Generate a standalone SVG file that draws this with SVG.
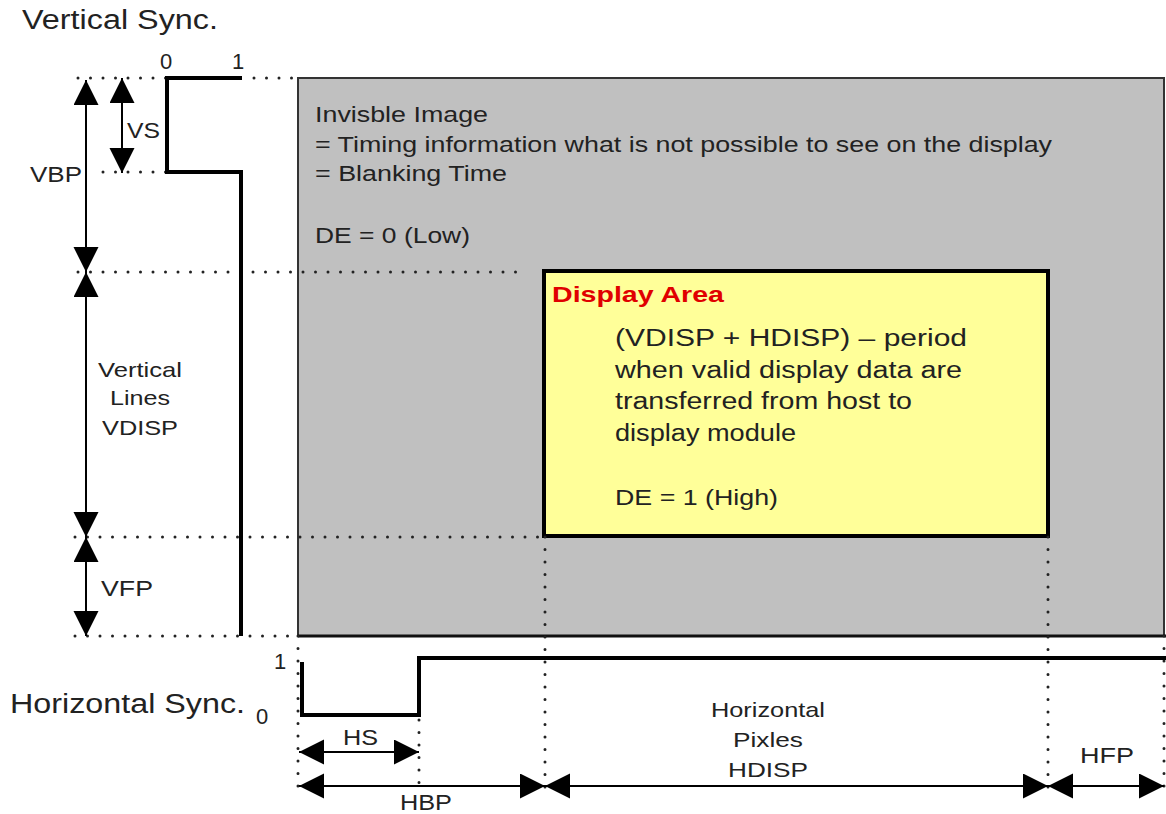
<svg xmlns="http://www.w3.org/2000/svg" width="1166" height="814" viewBox="0 0 1166 814">
<defs>
<marker id="ah" markerUnits="userSpaceOnUse" markerWidth="26" markerHeight="26" refX="25" refY="12.5" orient="auto-start-reverse" viewBox="0 0 26 26">
<path d="M0,0 L25,12.5 L0,25 z" fill="#000"/>
</marker>
<style>
text{font-family:"Liberation Sans",Arial,sans-serif;fill:#222}
.dot{stroke:#222;stroke-width:3;stroke-linecap:round;stroke-dasharray:0 12.5;fill:none}
.sig{stroke:#000;stroke-width:4;fill:none;stroke-linejoin:miter}
.arr{stroke:#000;stroke-width:2;fill:none;marker-start:url(#ah);marker-end:url(#ah)}
.m{font-size:22px}
.l{font-size:21px}
.g{font-size:22px}
.y{font-size:23px}
</style>
</defs>
<rect width="1166" height="814" fill="#fff"/>

<g id="invisible-image">
<rect x="298" y="78" width="866" height="558" fill="#c0c0c0" stroke="#333" stroke-width="2"/>
<line x1="298" y1="636" x2="1166" y2="636" stroke="#111" stroke-width="3"/>
<text x="315" y="122" class="g" textLength="173" lengthAdjust="spacingAndGlyphs">Invisble Image</text>
<text x="315" y="152" class="g" textLength="737" lengthAdjust="spacingAndGlyphs">= Timing information what is not possible to see on the display</text>
<text x="315" y="181" class="g" textLength="192" lengthAdjust="spacingAndGlyphs">= Blanking Time</text>
<text x="315" y="243" class="g" textLength="155" lengthAdjust="spacingAndGlyphs">DE = 0 (Low)</text>
</g>

<g id="display-area">
<rect x="544" y="271" width="504" height="265" fill="#ffff99" stroke="#000" stroke-width="4"/>
<text x="552" y="302" style="font-size:22px;font-weight:bold;fill:#e00000" textLength="172" lengthAdjust="spacingAndGlyphs">Display Area</text>
<text x="615" y="346" class="y" textLength="352" lengthAdjust="spacingAndGlyphs">(VDISP + HDISP) – period</text>
<text x="615" y="378" class="y" textLength="347" lengthAdjust="spacingAndGlyphs">when valid display data are</text>
<text x="615" y="409" class="y" textLength="297" lengthAdjust="spacingAndGlyphs">transferred from host to</text>
<text x="615" y="441" class="y" textLength="181" lengthAdjust="spacingAndGlyphs">display module</text>
<text x="615" y="505" class="g" textLength="163" lengthAdjust="spacingAndGlyphs">DE = 1 (High)</text>
</g>

<g id="guides">
<line class="dot" x1="78" y1="78" x2="166" y2="78"/>
<line class="dot" x1="254" y1="78" x2="298" y2="78"/>
<line class="dot" x1="103" y1="172" x2="166" y2="172"/>
<line class="dot" x1="78" y1="272" x2="516" y2="272"/>
<line class="dot" x1="75" y1="537" x2="544" y2="537"/>
<line class="dot" x1="75" y1="636" x2="298" y2="636"/>
<line class="dot" x1="298" y1="636" x2="298" y2="798"/>
<line class="dot" x1="419" y1="720" x2="419" y2="786"/>
<line class="dot" x1="545" y1="537" x2="545" y2="798"/>
<line class="dot" x1="1048" y1="537" x2="1048" y2="798"/>
<line class="dot" x1="1164" y1="636" x2="1164" y2="798"/>
</g>

<g id="vertical-sync">
<text x="22" y="29" style="font-size:27px" textLength="196" lengthAdjust="spacingAndGlyphs">Vertical Sync.</text>
<text x="160" y="69" class="m">0</text>
<text x="232" y="69" class="m">1</text>
<polyline class="sig" points="242,78 167,78 167,172 241,172 241,636"/>
</g>

<g id="horizontal-sync">
<text x="10" y="713" style="font-size:27px" textLength="235" lengthAdjust="spacingAndGlyphs">Horizontal Sync.</text>
<text x="274" y="669" class="m">1</text>
<text x="256" y="724" class="m">0</text>
<polyline class="sig" points="302,662 302,715 419,715 419,658 1166,658"/>
</g>

<g id="connectors">
<line class="arr" x1="86" y1="80" x2="86" y2="272"/>
<line class="arr" x1="122" y1="78" x2="122" y2="173"/>
<line class="arr" x1="86" y1="272" x2="86" y2="537"/>
<line class="arr" x1="86" y1="537" x2="86" y2="636"/>
<line class="arr" x1="299" y1="752" x2="419" y2="752"/>
<line class="arr" x1="299" y1="786" x2="545" y2="786"/>
<line class="arr" x1="545" y1="786" x2="1048" y2="786"/>
<line class="arr" x1="1048" y1="786" x2="1164" y2="786"/>
</g>

<g id="labels">
<text x="127" y="138" class="m" textLength="33" lengthAdjust="spacingAndGlyphs">VS</text>
<text x="30" y="182" class="m" textLength="52" lengthAdjust="spacingAndGlyphs">VBP</text>
<text x="140" y="377" class="l" text-anchor="middle" textLength="84" lengthAdjust="spacingAndGlyphs">Vertical</text>
<text x="140" y="405" class="l" text-anchor="middle" textLength="60" lengthAdjust="spacingAndGlyphs">Lines</text>
<text x="140" y="435" class="l" text-anchor="middle" textLength="76" lengthAdjust="spacingAndGlyphs">VDISP</text>
<text x="101" y="596" class="m" textLength="52" lengthAdjust="spacingAndGlyphs">VFP</text>
<text x="343" y="745" class="m" textLength="35" lengthAdjust="spacingAndGlyphs">HS</text>
<text x="400" y="810" class="m" textLength="52" lengthAdjust="spacingAndGlyphs">HBP</text>
<text x="768" y="717" class="l" text-anchor="middle" textLength="114" lengthAdjust="spacingAndGlyphs">Horizontal</text>
<text x="768" y="747" class="l" text-anchor="middle" textLength="70" lengthAdjust="spacingAndGlyphs">Pixles</text>
<text x="768" y="777" class="l" text-anchor="middle" textLength="80" lengthAdjust="spacingAndGlyphs">HDISP</text>
<text x="1107" y="763" class="m" text-anchor="middle" textLength="54" lengthAdjust="spacingAndGlyphs">HFP</text>
</g>
</svg>
